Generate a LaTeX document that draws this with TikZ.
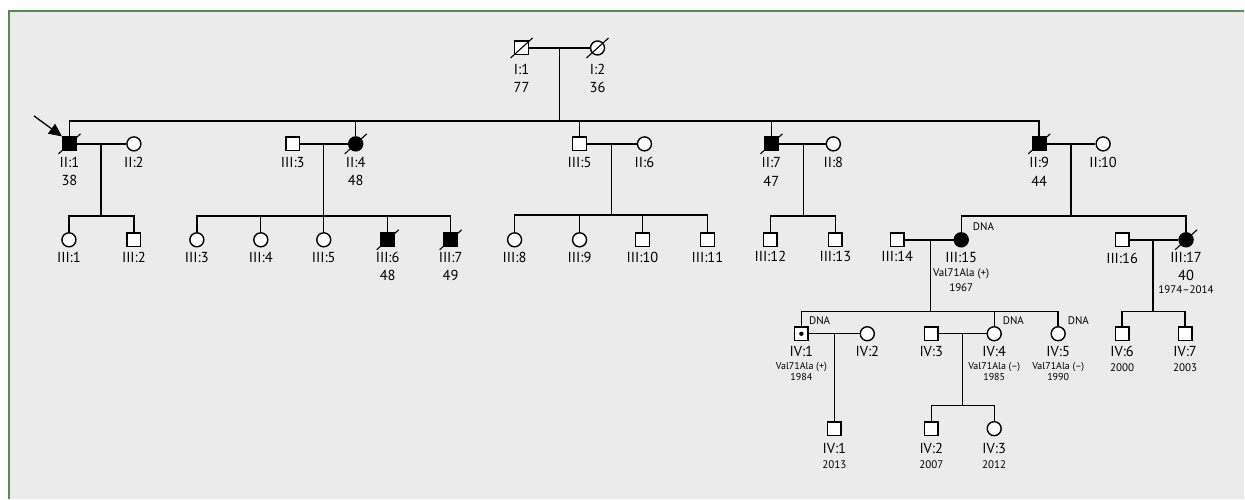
\documentclass[tikz,border=0pt]{standalone}
\usepackage{fontspec}
\setmainfont{PT Sans}
\usetikzlibrary{arrows.meta}
\definecolor{bgc}{RGB}{235,235,235}
\definecolor{frame}{RGB}{86,138,86}
\newcommand{\deadmark}[1]{\draw[line width=1.1pt] ([shift={(-11,10)}]#1.center) -- ([shift={(11,-10)}]#1.center);}
\begin{document}
\begin{tikzpicture}[x=1pt,y=-1pt, line width=1.4pt,
  m/.style={draw,rectangle,minimum size=13.6pt,inner sep=0pt,fill=white},
  f/.style={draw,circle,minimum size=14pt,inner sep=0pt,fill=white},
  aff/.style={fill=black},
  lab/.style={font=\fontsize{14.5}{15}\selectfont, inner sep=0pt},
  sm/.style={font=\fontsize{11}{12}\selectfont, inner sep=0pt},
  xs/.style={font=\fontsize{10}{11}\selectfont, inner sep=0pt},
  dna/.style={font=\fontsize{11}{12}\selectfont, inner sep=0pt, anchor=west},
]
\fill[white] (0,0) rectangle (1245,499);
\fill[bgc] (9,11) rectangle (1245,499);
\draw[frame, line width=2pt] (9,499) -- (9,11) -- (1245,11);
\useasboundingbox (0,0) rectangle (1245,499);

% ---------- Generation I ----------
\node[m] (I1) at (522,48) {};
\node[f] (I2) at (598,48) {};
\deadmark{I1} \deadmark{I2}
\draw (I1) -- (I2);
\coordinate (cI) at (560,48);
\coordinate (dI) at (560,121);
\draw (cI) -- (dI);
\node[lab] (lI1) at (522,69) {I:1};
\node[lab] (aI1) at (522,88) {77};
\node[lab] (lI2) at (598,69) {I:2};
\node[lab] (aI2) at (598,88) {36};

% ---------- Generation II ----------
\node[m,aff] (II1) at (69.5,144) {};
\node[f] (II2) at (134,144) {};
\node[m] (III3s) at (293,144) {};
\node[f,aff] (II4) at (356,144) {};
\node[m] (III5s) at (580,144) {};
\node[f] (II6) at (645,144) {};
\node[m,aff] (II7) at (772,144) {};
\node[f] (II8) at (834,144) {};
\node[m,aff] (II9) at (1040,144) {};
\node[f] (II10) at (1104,144) {};
\deadmark{II1} \deadmark{II4} \deadmark{II7} \deadmark{II9}

\coordinate (sIIa) at (69.5,121);
\coordinate (sIIb) at (1040,121);
\draw (II1.north) -- (sIIa) -- (sIIb) -- (II9.north);
\draw (II4.north) -- (II4.north |- sIIa);
\draw (III5s.north) -- (III5s.north |- sIIa);
\draw (II7.north) -- (II7.north |- sIIa);

\draw (II1) -- (II2);
\draw (III3s) -- (II4);
\draw (III5s) -- (II6);
\draw (II7) -- (II8);
\draw (II9) -- (II10);

\draw[-{Triangle[length=13pt,width=12pt]}, line width=1.3pt] (34,116) coordinate (arr) -- (II1.north west);

\node[lab] (lII1) at (69.5,163) {II:1};  \node[lab] (aII1) at (69.5,181) {38};
\node[lab] (lII2) at (134,163) {II:2};
\node[lab] (lIII3s) at (293,163) {III:3};
\node[lab] (lII4) at (356,163) {II:4};  \node[lab] (aII4) at (356,181) {48};
\node[lab] (lIII5s) at (580,163) {III:5};
\node[lab] (lII6) at (645,163) {II:6};
\node[lab] (lII7) at (772,163) {II:7};  \node[lab] (aII7) at (772,181) {47};
\node[lab] (lII8) at (834,163) {II:8};
\node[lab] (lII9) at (1040,163) {II:9};  \node[lab] (aII9) at (1040,181) {44};
\node[lab] (lII10) at (1104,163) {II:10};

% ---------- Generation III ----------
\node[f] (III1) at (69,240) {};
\node[m] (III2) at (134,240) {};
\node[f] (III3) at (197,240) {};
\node[f] (III4) at (261,240) {};
\node[f] (III5) at (324,240) {};
\node[m,aff] (III6) at (388,240) {};
\node[m,aff] (III7) at (451,240) {};
\node[f] (III8) at (515,240) {};
\node[f] (III9) at (580,240) {};
\node[m] (III10) at (643,240) {};
\node[m] (III11) at (708,240) {};
\node[m] (III12) at (771,240) {};
\node[m] (III13) at (836,240) {};
\node[m] (III14) at (898,240) {};
\node[f,aff] (III15) at (962,240) {};
\node[m] (III16) at (1123,240) {};
\node[f,aff] (III17) at (1187,240) {};
\deadmark{III6} \deadmark{III7} \deadmark{III17}

% sibships
\coordinate (m1) at (101,144);
\draw (m1) -- (101,216);
\draw (III1.north) -- (69,216) -- (134,216) -- (III2.north);

\coordinate (m2) at (324,144);
\draw (m2) -- (324,216);
\draw (III3.north) -- (197,216) -- (451,216) -- (III7.north);
\draw (III4.north) -- (261,216);
\draw (III5.north) -- (324,216);
\draw (III6.north) -- (388,216);

\coordinate (m3) at (612,144);
\draw (m3) -- (612,215);
\draw (III8.north) -- (515,215) -- (708,215) -- (III11.north);
\draw (III9.north) -- (580,215);
\draw (III10.north) -- (643,215);

\coordinate (m4) at (804,144);
\draw (m4) -- (804,216);
\draw (III12.north) -- (771,216) -- (836,216) -- (III13.north);

\coordinate (m5) at (1072,144);
\draw (m5) -- (1072,216);
\draw (III15.north) -- (962,216) -- (1187,216) -- (III17.north);

\draw (III14) -- (III15);
\draw (III16) -- (III17);

\node[lab] (lIII1) at (69,258) {III:1};
\node[lab] (lIII2) at (134,258) {III:2};
\node[lab] (lIII3) at (197,258) {III:3};
\node[lab] (lIII4) at (261,258) {III:4};
\node[lab] (lIII5) at (324,258) {III:5};
\node[lab] (lIII6) at (388,258) {III:6};  \node[lab] (aIII6) at (388,276) {48};
\node[lab] (lIII7) at (451,258) {III:7};  \node[lab] (aIII7) at (451,276) {49};
\node[lab] (lIII8) at (515,258) {III:8};
\node[lab] (lIII9) at (580,258) {III:9};
\node[lab] (lIII10) at (643,258) {III:10};
\node[lab] (lIII11) at (708,258) {III:11};
\node[lab] (lIII12) at (771,257) {III:12};
\node[lab] (lIII13) at (836,257) {III:13};
\node[lab] (lIII14) at (898,257) {III:14};
\node[lab] (lIII15) at (962,258) {III:15};
\node[sm] (gIII15) at (962,274) {Val71Ala (+)};
\node[sm] (yIII15) at (962,288) {1967};
\node[dna] (dIII15) at (973,227) {DNA};
\node[lab] (lIII16) at (1123,259) {III:16};
\node[lab] (lIII17) at (1187,258) {III:17};
\node[lab] (aIII17) at (1187,276) {40};
\node[sm] (yIII17) at (1187,290) {1974–2014};

% ---------- Generation IV ----------
\node[m] (IV1) at (802,334) {};
\fill (IV1.center) circle (2.2pt);
\node[f] (IV2) at (868,334) {};
\node[m] (IV3) at (932,334) {};
\node[f] (IV4) at (995,334) {};
\node[f] (IV5) at (1059,334) {};
\node[m] (IV6) at (1123,334) {};
\node[m] (IV7) at (1186,334) {};

\coordinate (m6) at (931,240);
\draw (m6) -- (931,312);
\draw (IV1.north) -- (802,312) -- (1059,312) -- (IV5.north);
\draw (IV4.north) -- (995,312);

\coordinate (m7) at (1154,240);
\draw (m7) -- (1154,312);
\draw (IV6.north) -- (1123,312) -- (1186,312) -- (IV7.north);

\draw (IV1) -- (IV2);
\draw (IV3) -- (IV4);

\node[m] (V1) at (835,429) {};
\node[m] (V2) at (932,429) {};
\node[f] (V3) at (995,429) {};
\coordinate (m8) at (835,334);
\draw (m8) -- (V1.north);
\coordinate (m9) at (963,334);
\draw (m9) -- (963,406);
\draw (V2.north) -- (932,406) -- (995,406) -- (V3.north);

\node[dna] (dIV1) at (809,321) {DNA};
\node[dna] (dIV4) at (1003,321) {DNA};
\node[dna] (dIV5) at (1068,321) {DNA};

\node[lab] (lIV1) at (802,352) {IV:1};
\node[xs] (gIV1) at (802,367) {Val71Ala (+)};
\node[xs] (yIV1) at (802,377) {1984};
\node[lab] (lIV2) at (868,352) {IV:2};
\node[lab] (lIV3) at (932,352) {IV:3};
\node[lab] (lIV4) at (995,352) {IV:4};
\node[xs] (gIV4) at (995,367) {Val71Ala (–)};
\node[xs] (yIV4) at (995,377) {1985};
\node[lab] (lIV5) at (1059,352) {IV:5};
\node[xs] (gIV5) at (1059,367) {Val71Ala (–)};
\node[xs] (yIV5) at (1059,377) {1990};
\node[lab] (lIV6) at (1123,352) {IV:6};
\node[sm] (yIV6) at (1123,368) {2000};
\node[lab] (lIV7) at (1186,352) {IV:7};
\node[sm] (yIV7) at (1186,368) {2003};

\node[lab] (lV1) at (835,449) {IV:1};
\node[sm] (yV1) at (835,465) {2013};
\node[lab] (lV2) at (932,449) {IV:2};
\node[sm] (yV2) at (932,465) {2007};
\node[lab] (lV3) at (995,449) {IV:3};
\node[sm] (yV3) at (995,465) {2012};
\end{tikzpicture}
\end{document}
